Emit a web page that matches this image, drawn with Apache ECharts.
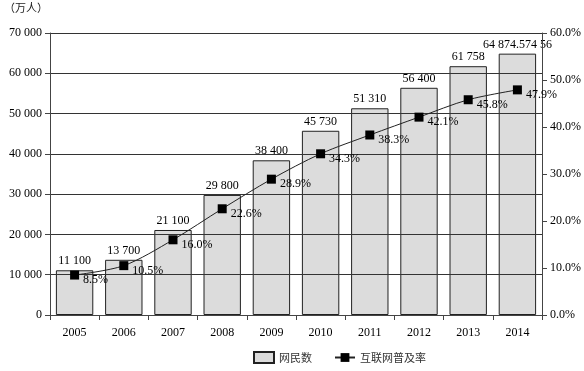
<!DOCTYPE html>
<html><head><meta charset="utf-8">
<script src="https://cdn.jsdelivr.net/npm/echarts@6/dist/echarts.min.js"></script>
<style>html,body{margin:0;padding:0;background:#fff}#c{width:584px;height:371px}</style>
</head><body><div id="c"></div>
<script>
var years = ['2005','2006','2007','2008','2009','2010','2011','2012','2013','2014'];
var netizens = [11100,13700,21100,29800,38400,45730,51310,56400,61758,64874.57456];
var netizenLabels = ['11 100','13 700','21 100','29 800','38 400','45 730','51 310','56 400','61 758','64 874.574 56'];
var rate = [8.5,10.5,16.0,22.6,28.9,34.3,38.3,42.1,45.8,47.9];
var leftTicks = ['0','10 000','20 000','30 000','40 000','50 000','60 000','70 000'];

var serif = '"Liberation Serif","Times New Roman",serif';
var chart = echarts.init(document.getElementById('c'));
chart.setOption({
  animation:false,
  textStyle:{fontFamily:serif,color:'#000'},
  grid:{left:50,right:40,top:33,bottom:56},
  graphic:[{type:'text',left:4,top:2,style:{text:'（万人）',fontSize:11,fill:'#222',fontFamily:'"Noto Sans CJK SC",sans-serif'}}],
  legend:{bottom:2,left:248,itemGap:22,itemWidth:20,itemHeight:11,
    textStyle:{fontFamily:'"Noto Sans CJK SC",sans-serif',fontSize:11,color:'#333'},
    data:[{name:'网民数',icon:'rect'},{name:'互联网普及率'}]},
  xAxis:{type:'category',data:years,z:3,
    axisLine:{lineStyle:{color:'#444',width:1}},
    axisTick:{show:true,alignWithLabel:false,length:5,lineStyle:{color:'#444'}},
    axisLabel:{fontFamily:serif,fontSize:12,color:'#000',margin:12}},
  yAxis:[{type:'value',min:0,max:70000,interval:10000,z:3,
    axisLine:{show:true,lineStyle:{color:'#444'}},
    axisTick:{show:true,length:5,lineStyle:{color:'#444'}},
    splitLine:{show:true,lineStyle:{color:'#333',width:1}},
    axisLabel:{fontFamily:serif,fontSize:12,color:'#000',margin:8,
      formatter:function(v){return leftTicks[Math.round(v/10000)];}}},
   {type:'value',min:0,max:60,interval:10,z:3,position:'right',
    axisLine:{show:true,lineStyle:{color:'#444'}},
    axisTick:{show:true,length:5,lineStyle:{color:'#444'}},
    splitLine:{show:false},
    axisLabel:{fontFamily:serif,fontSize:12,color:'#000',margin:8,
      formatter:function(v){return v.toFixed(1)+'%';}}}],
  series:[
   {name:'网民数',type:'bar',data:netizens,barCategoryGap:'24%',z:2,
    itemStyle:{color:'#dcdcdc',borderColor:'#222',borderWidth:1},
    label:{show:true,position:'top',distance:3,fontFamily:serif,fontSize:12,color:'#000',
      formatter:function(p){return netizenLabels[p.dataIndex];}}},
   {name:'互联网普及率',type:'line',yAxisIndex:1,data:rate,smooth:0.3,z:5,
    symbol:'rect',symbolSize:9,
    lineStyle:{color:'#222',width:1},
    itemStyle:{color:'#000'},
    label:{show:true,position:'right',offset:[0,5],distance:4,fontFamily:serif,fontSize:12,color:'#000',
      formatter:function(p){return p.value.toFixed(1)+'%';}}}
  ]
});
</script></body></html>
